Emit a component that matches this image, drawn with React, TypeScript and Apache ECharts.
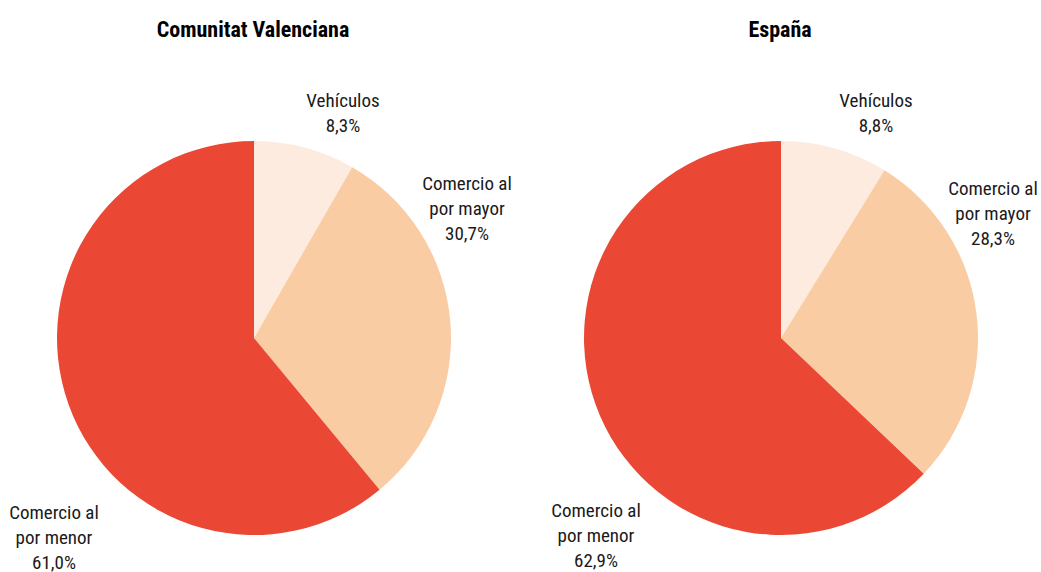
import React, { useEffect, useRef } from "react";
import * as echarts from "echarts";

const categories = ["Vehículos", "Comercio al\npor mayor", "Comercio al\npor menor"];
const valenciaValues = [8.3, 30.7, 61.0];
const espanaValues = [8.8, 28.3, 62.9];
const titles = ["Comunitat Valenciana", "España"];
const colors = ["#FDEBDF", "#FACCA4", "#EA4834"];

const FONT = "'Roboto Condensed', 'Nimbus Sans Narrow', 'Arial Narrow', 'Liberation Sans Narrow', Roboto, sans-serif";

// label offsets (relative to pie centre), per slice, per pie
const labelOffsets = [
  [[89, -225], [213, -130], [-200, 199]],
  [[95, -225], [212, -125], [-185, 197]],
];
const centers = [[254, 338], [781, 338]];
const titleX = [248, 775];

const fmt = (v: number) => v.toFixed(1).replace(".", ",") + "%";

export default function App() {
  const ref = useRef<HTMLDivElement>(null);
  useEffect(() => {
    if (!ref.current) return;
    const chart = echarts.init(ref.current, undefined, { renderer: "svg" });
    const makeSeries = (vals: number[], idx: number) => ({
      type: "pie",
      center: centers[idx],
      radius: 197,
      startAngle: 90,
      clockwise: true,
      silent: true,
      avoidLabelOverlap: false,
      data: vals.map((v, i) => ({ name: categories[i], value: v, itemStyle: { color: colors[i] } })),
      label: {
        show: true,
        position: "outside",
        formatter: (p: any) => p.name + "\n" + fmt(p.value),
        fontFamily: FONT,
        fontSize: 19,
        lineHeight: 25,
        color: "#1a1a1a",
        align: "center",
      },
      labelLine: { show: false },
      labelLayout: (p: any) => {
        const off = labelOffsets[idx][p.dataIndex];
        return {
          x: centers[idx][0] + off[0],
          y: centers[idx][1] + off[1],
          align: "center",
          verticalAlign: "middle",
          hideOverlap: false,
        };
      },
      itemStyle: { borderWidth: 0 },
    });
    chart.setOption({
      animation: false,
      backgroundColor: "#ffffff",
      title: titles.map((t, i) => ({
        text: t,
        left: titleX[i],
        top: 13,
        textAlign: "center",
        textStyle: { fontFamily: FONT, fontSize: 22, fontWeight: "bold", color: "#000" },
      })),
      series: [makeSeries(valenciaValues, 0), makeSeries(espanaValues, 1)],
    });
    return () => chart.dispose();
  }, []);
  return <div ref={ref} style={{ width: 1041, height: 572, position: "absolute", left: 0, top: 0 }} />;
}
